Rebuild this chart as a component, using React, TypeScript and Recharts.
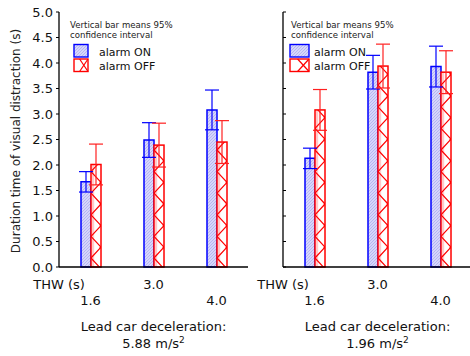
import React from 'react';
import { BarChart, Bar, XAxis, YAxis, ErrorBar } from 'recharts';

const thwCategories = ['1.6', '3.0', '4.0'];
const yTicks = [0, 0.5, 1, 1.5, 2, 2.5, 3, 3.5, 4, 4.5, 5];
const yTickLabels = ['0.0', '0.5', '1.0', '1.5', '2.0', '2.5', '3.0', '3.5', '4.0', '4.5', '5.0'];

// Lead car deceleration 5.88 m/s2
const onHigh = [1.67, 2.49, 3.08];
const onHighErr = [0.2, 0.34, 0.39];
const offHigh = [2.01, 2.39, 2.45];
const offHighErr = [0.4, 0.43, 0.42];
// Lead car deceleration 1.96 m/s2
const onLow = [2.13, 3.82, 3.93];
const onLowErr = [0.2, 0.33, 0.4];
const offLow = [3.08, 3.94, 3.82];
const offLowErr = [0.4, 0.43, 0.42];

const yTitle = 'Duration time of visual distraction (s)';
const thwLabel = 'THW (s)';
const decelTitle = 'Lead car deceleration:';
const legendNote1 = 'Vertical bar means 95%';
const legendNote2 = 'confidence interval';
const seriesNames = ['alarm ON', 'alarm OFF'];

const build = (on: number[], onErr: number[], off: number[], offErr: number[]) =>
  thwCategories.map((thw, i) => ({ thw, on: on[i], onErr: onErr[i], off: off[i], offErr: offErr[i] }));

const dataHigh = build(onHigh, onHighErr, offHigh, offHighErr);
const dataLow = build(onLow, onLowErr, offLow, offLowErr);

const FONT = '"DejaVu Sans", Verdana, sans-serif';

const HatchDefs = ({ id }: { id: string }) => (
  <defs>
    <pattern id={id} patternUnits="userSpaceOnUse" width="3" height="3">
      <rect width="3" height="3" fill="#d6d6fa" />
      <path d="M-1,1 l2,-2 M0,3 l3,-3 M2,4 l2,-2" stroke="#a6a6f0" strokeWidth="0.7" />
    </pattern>
  </defs>
);

const makeOffShape = (prefix: string) => (props: any) => {
  const { x, y, width, height, index } = props;
  if (!height || height <= 0) return <g />;
  const bottom = y + height;
  const half = 10.8;
  const pts: [number, number][] = [];
  let vy = bottom + 1.8;
  let right = true;
  while (vy > y - half) {
    pts.push([right ? x + width : x, vy]);
    vy -= half;
    right = !right;
  }
  const cid = `${prefix}-clip-${index}`;
  return (
    <g>
      <defs>
        <clipPath id={cid}>
          <rect x={x} y={y} width={width} height={height} />
        </clipPath>
      </defs>
      <rect x={x} y={y} width={width} height={height} fill="#ffffff" />
      <g clipPath={`url(#${cid})`}>
        <rect x={x + 0.8} y={y} width={2.4} height={height} fill="#ffcaca" />
        <polyline points={pts.map((p) => p.join(',')).join(' ')} fill="none" stroke="#ff0000" strokeWidth={1.2} />
        {pts.filter((p) => p[0] > x + width / 2).map((p, i) => (
          <circle key={i} cx={p[0]} cy={p[1]} r={1.3} fill="#ff0000" />
        ))}
      </g>
      <rect x={x} y={y} width={width} height={height} fill="none" stroke="#ff0000" strokeWidth={1.5} />
    </g>
  );
};

const XTick = (p: any) => (
  <text x={p.x} y={p.y + (p.index === 1 ? 22 : 38)} textAnchor="middle" fontSize={13} fill="#111" fontFamily={FONT}>
    {p.payload.value}
  </text>
);

const Empty = () => <g />;

const Panel = ({ data, prefix, showY, decel }: { data: any[]; prefix: string; showY: boolean; decel: string }) => {
  const hatch = `${prefix}-hatch`;
  return (
    <BarChart
      width={250}
      height={356}
      data={data}
      margin={{ top: 12, right: 2, bottom: 0, left: 0 }}
      barGap={0}
      barSize={10}
      style={{ fontFamily: FONT }}
    >
      <HatchDefs id={hatch} />
      <XAxis
        dataKey="thw"
        height={89}
        axisLine={{ stroke: '#000', strokeWidth: 1.3 }}
        tickLine={false}
        tickSize={0}
        tickMargin={0}
        tick={<XTick />}
        label={(lp: any) => {
          const vb = lp.viewBox;
          const cx = vb.x + vb.width / 2;
          return (
            <g fontFamily={FONT} fontSize={13} fill="#111">
              <text x={vb.x} y={vb.y + 22} textAnchor="middle" fill="#111">{thwLabel}</text>
              <text x={cx} y={vb.y + 64} textAnchor="middle" fill="#111">{decelTitle}</text>
              <text x={cx} y={vb.y + 81} textAnchor="middle" fill="#111">
                {decel} m/s<tspan dy={-5} fontSize={9}>2</tspan>
              </text>
            </g>
          );
        }}
      />
      <XAxis
        xAxisId="top"
        dataKey="thw"
        orientation="top"
        height={0}
        axisLine={{ stroke: '#808080', strokeWidth: 1.5 }}
        tickLine={{ stroke: '#333' }}
        tickSize={-3}
        tick={<Empty />}
      />
      <YAxis
        domain={[0, 5]}
        ticks={yTicks}
        width={59}
        interval={0}
        axisLine={{ stroke: '#000', strokeWidth: 1.3 }}
        tickLine={{ stroke: '#000' }}
        tickSize={showY ? 3 : -3}
        tickMargin={3}
        tick={showY ? { fontSize: 13, fill: '#111', fontFamily: FONT } : <Empty />}
        tickFormatter={(v: number) => yTickLabels[yTicks.indexOf(v)]}
        label={
          showY
            ? (lp: any) => {
                const vb = lp.viewBox;
                const cy = vb.y + vb.height / 2 + 1.5;
                return (
                  <text
                    x={20}
                    y={cy}
                    transform={`rotate(-90, 20, ${cy})`}
                    textAnchor="middle"
                    fontSize={12}
                    fill="#222"
                    fontFamily={FONT}
                  >
                    {yTitle}
                  </text>
                );
              }
            : undefined
        }
      />
      <YAxis
        yAxisId="r"
        orientation="right"
        domain={[0, 5]}
        ticks={yTicks}
        width={0}
        interval={0}
        axisLine={{ stroke: '#222', strokeWidth: 1.3 }}
        tickLine={{ stroke: '#333' }}
        tickSize={-3}
        tick={<Empty />}
      />
      <Bar dataKey="on" fill={`url(#${hatch})`} stroke="#0000ff" strokeWidth={1.5} isAnimationActive={false}>
        <ErrorBar dataKey="onErr" width={7} stroke="#0000ff" strokeWidth={1.2} />
      </Bar>
      <Bar dataKey="off" shape={makeOffShape(prefix)} isAnimationActive={false}>
        <ErrorBar dataKey="offErr" width={7} stroke="#ff2020" strokeWidth={1.2} />
      </Bar>
    </BarChart>
  );
};

const LegendBlock = ({ x, boxX, boxW, textX, hatch }: { x: number; boxX: number; boxW: number; textX: number; hatch: string }) => (
  <g fontFamily={FONT}>
    <text x={x} y={28} fontSize={8.6} fill="#222">{legendNote1}</text>
    <text x={x} y={37.5} fontSize={8.6} fill="#222">{legendNote2}</text>
    <rect x={boxX} y={44.5} width={boxW} height={12.5} fill={`url(#${hatch})`} stroke="#0000ff" strokeWidth={1.4} />
    <text x={textX} y={56} fontSize={11} fill="#111">{seriesNames[0]}</text>
    <rect x={boxX} y={59} width={boxW} height={12.5} fill="#fff" stroke="#ff0000" strokeWidth={1.4} />
    <polyline
      points={`${boxX + boxW * 0.4},${59} ${boxX + boxW},${71.5}`}
      fill="none"
      stroke="#ff0000"
      strokeWidth={1.2}
    />
    <polyline
      points={`${boxX + boxW * 0.4},${71.5} ${boxX + boxW},${59}`}
      fill="none"
      stroke="#ff0000"
      strokeWidth={1.2}
    />
    <text x={textX} y={69.5} fontSize={11} fill="#111">{seriesNames[1]}</text>
  </g>
);

export default function App() {
  return (
    <div
      style={{
        position: 'absolute',
        left: 0,
        top: 0,
        width: 470,
        height: 356,
        overflow: 'hidden',
        background: '#fff',
        fontFamily: FONT,
      }}
    >
      <div style={{ position: 'absolute', left: 0, top: 0 }}>
        <Panel data={dataHigh} prefix="pa" showY={true} decel="5.88" />
      </div>
      <div style={{ position: 'absolute', left: 224, top: 0 }}>
        <Panel data={dataLow} prefix="pb" showY={false} decel="1.96" />
      </div>
      <svg
        width={470}
        height={356}
        style={{ position: 'absolute', left: 0, top: 0, pointerEvents: 'none' }}
      >
        <HatchDefs id="legend-hatch" />
        <LegendBlock x={70} boxX={74} boxW={14} textX={99} hatch="legend-hatch" />
        <LegendBlock x={291} boxX={290} boxW={19} textX={314} hatch="legend-hatch" />
      </svg>
    </div>
  );
}
